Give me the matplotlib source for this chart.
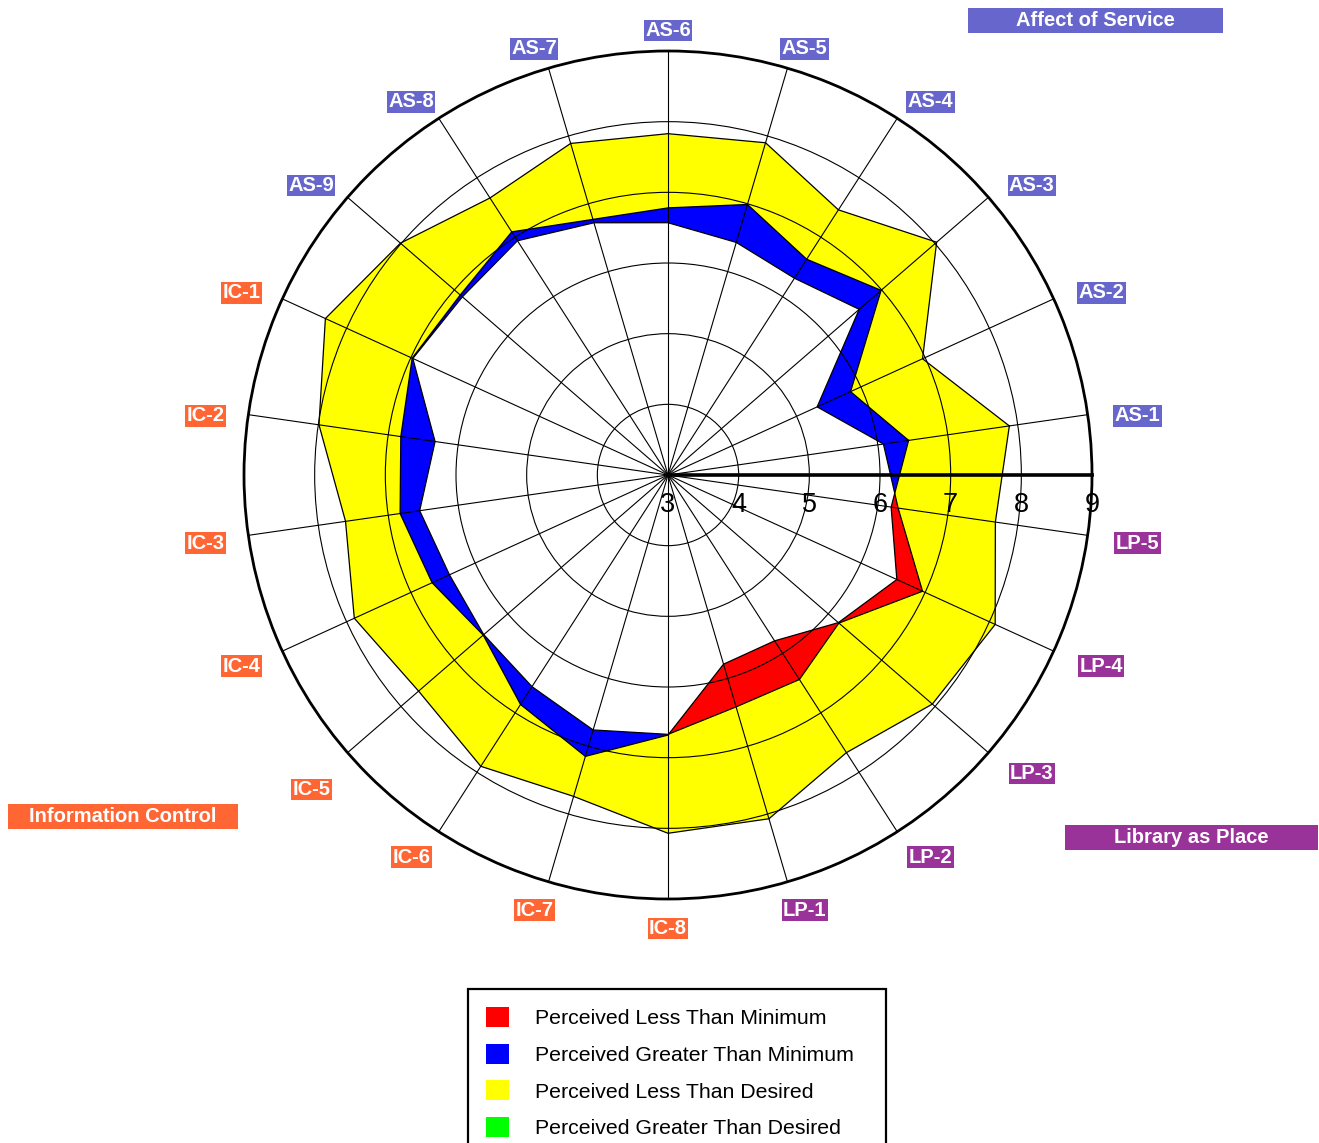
import numpy as np
import matplotlib.pyplot as plt
from matplotlib.patches import Patch, Rectangle

plt.rcParams['font.family'] = ['Liberation Sans', 'DejaVu Sans']

# items, counter-clockwise starting just above the 3 o'clock axis
items = ['AS-1', 'AS-2', 'AS-3', 'AS-4', 'AS-5', 'AS-6', 'AS-7', 'AS-8', 'AS-9',
         'IC-1', 'IC-2', 'IC-3', 'IC-4', 'IC-5', 'IC-6', 'IC-7', 'IC-8',
         'LP-1', 'LP-2', 'LP-3', 'LP-4', 'LP-5']
minimum = [6.08, 5.32, 6.58, 6.31, 6.43, 6.57, 6.72, 6.94, 6.85,
           6.97, 6.33, 6.55, 6.40, 6.45, 6.56, 6.76, 6.67,
           6.42, 6.44, 6.20, 6.96, 6.29]
perceived = [6.44, 5.84, 6.99, 6.63, 6.99, 6.78, 6.77, 7.09, 6.89,
             6.98, 6.82, 6.83, 6.67, 6.46, 6.86, 7.15, 6.68,
             5.79, 5.79, 6.19, 6.56, 6.19]
desired = [7.88, 6.96, 8.03, 7.46, 7.90, 7.83, 7.89, 7.66, 8.01,
           8.33, 7.99, 7.61, 7.88, 7.67, 7.90, 7.74, 8.07,
           8.07, 7.67, 7.95, 8.09, 7.68]
scale_ticks = [3, 4, 5, 6, 7, 8, 9]

groups = ['Affect of Service', 'Information Control', 'Library as Place']
group_prefix = ['AS', 'IC', 'LP']
group_colors = ['#6666CC', '#FF6633', '#993399']

legend_labels = ['Perceived Less Than Minimum', 'Perceived Greater Than Minimum',
                 'Perceived Less Than Desired', 'Perceived Greater Than Desired']
legend_colors = ['#FF0000', '#0000FF', '#FFFF00', '#00FF00']

W, H = 1319, 1143
n = len(items)
theta = (np.arange(n) + 0.5) * 2 * np.pi / n
rmin, rmax = scale_ticks[0], scale_ticks[-1]


def closed(v):
    v = np.asarray(v, dtype=float)
    return np.append(v, v[0])


def inner_envelope(a, b):
    # region inside both polygons (straight edges between spokes)
    a = np.asarray(a) - rmin
    b = np.asarray(b) - rmin
    th, rr = [], []
    for i in range(n):
        j = (i + 1) % n
        th.append(theta[i])
        rr.append(min(a[i], b[i]))
        if (a[i] - b[i]) * (a[j] - b[j]) < 0:
            s = (a[i] - b[i]) / (a[i] - a[j] * b[i] / b[j])
            ui = np.array([np.cos(theta[i]), np.sin(theta[i])])
            uj = np.array([np.cos(theta[j]), np.sin(theta[j])])
            p = (1 - s) * a[i] * ui + s * a[j] * uj
            ang = np.arctan2(p[1], p[0]) % (2 * np.pi)
            if j == 0 and ang < theta[i]:
                ang += 2 * np.pi
            th.append(ang)
            rr.append(np.hypot(p[0], p[1]))
    return closed(th), closed(rr) + rmin


fig = plt.figure(figsize=(W / 100, H / 100), dpi=100)
cx, cy, rad = 668, 475, 424
ax = fig.add_axes([(cx - rad) / W, (H - cy - rad) / H, 2 * rad / W, 2 * rad / H],
                  projection='polar')
ax.set_ylim(rmin, rmax)

ax.fill(closed(theta), closed(desired), color='#FFFF00', lw=0, zorder=1)
ax.fill(closed(theta), closed(perceived), color='#0000FF', lw=0, zorder=1.1)
ax.fill(closed(theta), closed(minimum), color='#FF0000', lw=0, zorder=1.2)
th_in, r_in = inner_envelope(perceived, minimum)
ax.fill(th_in, r_in, color='white', lw=0, zorder=1.3)
for vals in (desired, perceived, minimum):
    ax.plot(closed(theta), closed(vals), color='black', lw=0.9, zorder=2)

ax.set_thetagrids(np.degrees(theta), labels=[''] * n)
ax.set_rgrids(scale_ticks[1:-1], labels=[''] * (len(scale_ticks) - 2))
ax.set_axisbelow(False)
ax.grid(True, color='black', lw=0.8)
ax.spines['polar'].set_linewidth(2)
ax.plot([0, 0], [rmin, rmax], color='black', lw=2.6, zorder=3, clip_on=False)

for v in scale_ticks:
    ax.annotate(str(v), xy=(0, v), xytext=(0, -36.5), textcoords='offset pixels',
                ha='center', va='baseline', fontsize=19.5, annotation_clip=False)

# item labels sit on a ring just outside the frame, pushed sideways by half a box
extra_down = {'IC-5': 16}
for name, ang in zip(items, theta):
    col = group_colors[group_prefix.index(name[:2])]
    c, s = np.cos(ang), np.sin(ang)
    push = 23 if c > 0 else 16
    dx = 451 * c + np.sign(c) * push * min(1.0, 1.5 * abs(c))
    dy = 449 * s - 4.5 - extra_down.get(name, 0)
    ax.annotate(name, xy=(0.5, 0.5), xycoords='axes fraction', xytext=(dx, dy),
                textcoords='offset pixels', ha='center', va='center',
                fontsize=14.5, fontweight='bold', color='white',
                annotation_clip=False,
                bbox=dict(boxstyle='square,pad=0.07', fc=col, ec='none'))

# group title boxes (pixel boxes from the top-left corner)
group_boxes = [(968, 8, 255, 25), (8, 804, 230, 25), (1065, 825, 253, 25)]
for g, col, (x0, y0, bw, bh) in zip(groups, group_colors, group_boxes):
    fig.add_artist(Rectangle((x0 / W, 1 - (y0 + bh) / H), bw / W, bh / H,
                             transform=fig.transFigure, fc=col, ec='none'))
    fig.text((x0 + bw / 2) / W, 1 - (y0 + bh / 2) / H, g, ha='center', va='center',
             fontsize=14.5, fontweight='bold', color='white')

handles = [Patch(facecolor=c, edgecolor='none') for c in legend_colors]
leg = fig.legend(handles, legend_labels, loc='upper left',
                 bbox_to_anchor=(468 / W, 0, 418 / W, 1 - 989 / H), mode='expand',
                 fontsize=15.3, frameon=True, fancybox=False, edgecolor='black',
                 framealpha=1, borderpad=0.85, borderaxespad=0,
                 handlelength=1.08, handleheight=1.08, handletextpad=1.2,
                 labelspacing=0.72)
leg.get_frame().set_linewidth(1.6)

fig.savefig('out.png', dpi=100)
